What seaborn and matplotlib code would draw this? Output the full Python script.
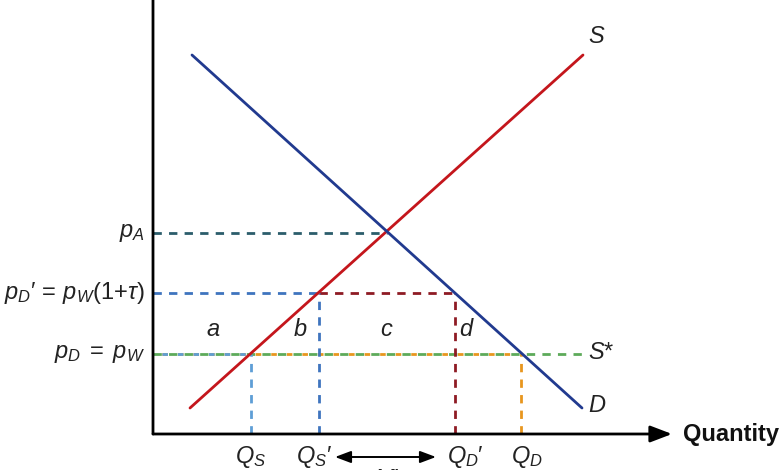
import numpy as np
import pandas as pd
import matplotlib
matplotlib.use("Agg")
import matplotlib.pyplot as plt
import seaborn as sns

# ── Data (quantity / price units) ────────────────────────────────────────────
supply_q = [3.7, 43.0]
supply_p = [2.6, 37.9]
demand_q = [3.9, 42.9]
demand_p = [37.9, 2.6]

p_autarky = 20.1      # p_A
p_tariff = 14.1       # p_D' = p_W(1+tau)
p_world = 8.0         # p_D = p_W
q_autarky = 23.4

q_s = 9.8
q_s_tar = 16.6
q_d_tar = 30.2
q_d = 36.8
s_star_end = 42.9

x_axis_end = 51.9
y_axis_end = 45.9

PRIME = "\u2032"
price_labels = [r"$p_A$",
                r"$p_D$" + PRIME + r"$\,=\,p_W$(1+$\tau$)",
                r"$p_D\;=\;p_W$"]
qty_labels = [r"$Q_S$", r"$Q_S$" + PRIME, r"$Q_D$" + PRIME, r"$Q_D$"]
area_labels = ["a", "b", "c", "d"]
area_x = [6.0, 14.7, 23.4, 31.4]
area_y = 10.4

# ── Style ────────────────────────────────────────────────────────────────────
sns.set_theme(style="white")
plt.rcParams["font.family"] = ["Liberation Sans", "DejaVu Sans"]
plt.rcParams["mathtext.fontset"] = "custom"
plt.rcParams["mathtext.rm"] = "Liberation Sans"
plt.rcParams["mathtext.it"] = "Liberation Sans:italic"
plt.rcParams["mathtext.bf"] = "Liberation Sans:bold"

C = {
    "supply": "#C4161C",
    "demand": "#213A8F",
    "pa": "#2B5D6B",
    "blue": "#3F74BE",
    "lightblue": "#5E9ED6",
    "darkred": "#8E1B24",
    "green": "#5DAA5A",
    "orange": "#E8961E",
}
LW = 2.0
DASH = (3.0, 2.6)
FS = 17
TXT = "#222222"

fig = plt.figure(figsize=(7.8, 4.7), dpi=100)
ax = fig.add_axes([0, 0, 1, 1])
ax.set_xlim(-15.3, 62.7)
ax.set_ylim(-3.6, 43.4)
ax.axis("off")

# ── Dashed guide lines ───────────────────────────────────────────────────────
def hline(x0, x1, y, color, dashes=DASH, offset=0):
    ax.plot([x0, x1], [y, y], color=color, lw=LW, linestyle=(offset, dashes),
            dash_capstyle="butt", zorder=2)

def vline(x, y0, y1, color):
    ax.plot([x, x], [y0, y1], color=color, lw=LW, linestyle=(0, DASH),
            dash_capstyle="butt", zorder=2)

hline(0, q_autarky, p_autarky, C["pa"])
hline(0, q_s_tar, p_tariff, C["blue"])
hline(q_s_tar, q_d_tar, p_tariff, C["darkred"])

# world price line: orange / light blue dashes sit in the gaps of the green
gap_dash = (2.0, 3.6)
gap_off = 5.6 - 3.2
hline(0, q_d, p_world, C["orange"], dashes=gap_dash, offset=gap_off)
hline(0, q_s, p_world, C["lightblue"], dashes=gap_dash, offset=gap_off)
hline(0, s_star_end, p_world, C["green"])

vline(q_s, 0, p_world, C["lightblue"])
vline(q_s_tar, 0, p_tariff, C["blue"])
vline(q_d_tar, 0, p_tariff, C["darkred"])
vline(q_d, 0, p_world, C["orange"])

# ── Supply and demand ────────────────────────────────────────────────────────
curves = pd.DataFrame({
    "q": supply_q + demand_q,
    "p": supply_p + demand_p,
    "curve": ["S"] * 2 + ["D"] * 2,
})
sns.lineplot(data=curves, x="q", y="p", hue="curve", sort=False,
             palette={"S": C["supply"], "D": C["demand"]},
             linewidth=LW, legend=False, ax=ax, zorder=3)

# ── Axes with arrows ─────────────────────────────────────────────────────────
head = "-|>,head_length=1.1,head_width=0.42"
ax.annotate("", xy=(x_axis_end, 0), xytext=(0, 0),
            arrowprops=dict(arrowstyle=head, color="black", lw=LW,
                            shrinkA=0, shrinkB=0), zorder=4)
ax.annotate("", xy=(0, y_axis_end), xytext=(0, 0),
            arrowprops=dict(arrowstyle=head, color="black", lw=LW,
                            shrinkA=0, shrinkB=0),
            annotation_clip=False, zorder=4)

ax.text(53.0, 0, "Quantity", fontsize=FS, fontweight="bold",
        ha="left", va="center", color="#111111")

# ── Labels ───────────────────────────────────────────────────────────────────
for lab, y in zip(price_labels, [p_autarky, p_tariff, p_world]):
    ax.text(-0.8, y, lab, fontsize=FS, ha="right", va="center", color=TXT)

for lab, x in zip(qty_labels, [q_s, q_s_tar - 0.5, q_d_tar + 1.0, q_d + 0.6]):
    ax.text(x, -2.85, lab, fontsize=FS, ha="center", va="baseline", color=TXT)

for lab, x in zip(area_labels, area_x):
    ax.text(x, area_y, f"${lab}$", fontsize=FS, ha="center", va="center",
            color=TXT)

ax.text(43.5, 39.7, "$S$", fontsize=FS, ha="left", va="center", color=TXT)
ax.text(43.5, 2.8, "$D$", fontsize=FS, ha="left", va="center", color=TXT)
ax.text(43.5, 8.1, "$S$*", fontsize=FS, ha="left", va="center", color=TXT)

# import-quantity arrow M' (its label runs off the bottom edge, as in the source)
ax.annotate("", xy=(18.2, -2.3), xytext=(28.3, -2.3),
            arrowprops=dict(arrowstyle="<|-|>,head_length=0.8,head_width=0.3",
                            color="black", lw=1.4, shrinkA=0, shrinkB=0))
ax.text(23.4, -5.2, "$M$" + PRIME, fontsize=FS, ha="center", va="baseline",
        color=TXT, clip_on=False)

fig.savefig("out.png", dpi=100)
